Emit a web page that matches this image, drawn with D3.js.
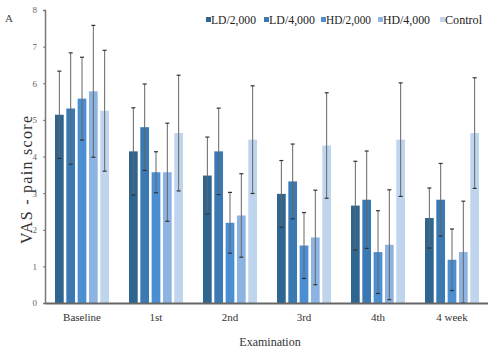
<!DOCTYPE html>
<html>
<head>
<meta charset="utf-8">
<script src="https://cdn.jsdelivr.net/npm/d3@7"></script>
<style>
  body { margin: 0; background: #fff; }
  svg text { font-family: "Liberation Serif", "Times New Roman", serif; }
</style>
</head>
<body>
<div id="chart"></div>
<script>
// Data
const exams = ["Baseline", "1st", "2nd", "3rd", "4th", "4 week"];
const groups = ["LD/2,000", "LD/4,000", "HD/2,000", "HD/4,000", "Control"];
const colors = ["#2e6690", "#3b79b3", "#4b8fd2", "#8db3e2", "#bfd5ee"];
const yTicks = [0, 1, 2, 3, 4, 5, 6, 7, 8];

// mean values, one array per group, in exam order
const ld2000 = [5.14, 4.14, 3.48, 2.98, 2.66, 2.32];
const ld4000 = [5.31, 4.80, 4.14, 3.32, 2.82, 2.82];
const hd2000 = [5.58, 3.57, 2.19, 1.57, 1.39, 1.18];
const hd4000 = [5.78, 3.57, 2.39, 1.79, 1.59, 1.39];
const control = [5.25, 4.64, 4.46, 4.30, 4.46, 4.64];

// standard deviations (error bars)
const ld2000Sd = [1.19, 1.19, 1.05, 0.91, 1.21, 0.82];
const ld4000Sd = [1.52, 1.18, 1.18, 1.02, 1.33, 0.99];
const hd2000Sd = [1.13, 0.56, 0.83, 0.90, 1.13, 0.84];
const hd4000Sd = [1.80, 1.34, 1.14, 1.29, 1.50, 1.39];
const controlSd = [1.65, 1.58, 1.47, 1.44, 1.55, 1.51];

const means = [ld2000, ld4000, hd2000, hd4000, control];
const sds = [ld2000Sd, ld4000Sd, hd2000Sd, hd4000Sd, controlSd];

const data = [];
exams.forEach((e, i) => {
    groups.forEach((g, j) => {
        data.push({ exam: e, group: g, mean: means[j][i], sd: sds[j][i], color: colors[j] });
    });
});

const W = 488, H = 352;
const margin = { top: 10, right: 0, bottom: 49, left: 45 };
const width = W - margin.left - margin.right,
    height = H - margin.top - margin.bottom;

const svg = d3.select("#chart").append("svg")
    .attr("width", W)
    .attr("height", H);

const g = svg.append("g")
    .attr("transform", `translate(${margin.left},${margin.top})`);

const x0 = d3.scaleBand().domain(exams).range([0, 444]).paddingInner(0.27).paddingOuter(0.135);
const x1 = d3.scaleBand().domain(groups).range([0, x0.bandwidth()]).paddingInner(0.23);
const y = d3.scaleLinear().domain([0, 8]).range([height, 0]);

// Bars
g.append("g")
    .selectAll("rect")
    .data(data)
    .join("rect")
    .attr("x", d => x0(d.exam) + x1(d.group))
    .attr("y", d => y(d.mean))
    .attr("width", x1.bandwidth())
    .attr("height", d => y(0) - y(d.mean))
    .attr("fill", d => d.color);

// Error bars
const eb = g.append("g").selectAll("g")
    .data(data)
    .join("g")
    .attr("transform", d => `translate(${x0(d.exam) + x1(d.group) + x1.bandwidth() / 2},0)`);

eb.append("line")
    .attr("y1", d => y(d.mean + d.sd))
    .attr("y2", d => y(Math.max(0, d.mean - d.sd)))
    .attr("stroke", "#666")
    .attr("stroke-width", 1);

eb.append("line")
    .attr("x1", -2).attr("x2", 2)
    .attr("y1", d => y(d.mean + d.sd))
    .attr("y2", d => y(d.mean + d.sd))
    .attr("stroke", "#333")
    .attr("stroke-width", 1.2);

eb.append("line")
    .attr("x1", -2).attr("x2", 2)
    .attr("y1", d => y(Math.max(0, d.mean - d.sd)))
    .attr("y2", d => y(Math.max(0, d.mean - d.sd)))
    .attr("stroke", "#333")
    .attr("stroke-width", 1.2);

// Y axis
const yAxis = g.append("g")
    .call(d3.axisLeft(y).tickValues(yTicks).tickSize(2).tickPadding(6));
yAxis.select(".domain").attr("stroke", "#777").attr("stroke-width", 1.5);
yAxis.selectAll(".tick line").attr("stroke", "#777");
yAxis.selectAll(".tick text")
    .attr("fill", "#666")
    .style("font-size", "9px");

// X axis
const xAxis = g.append("g")
    .attr("transform", `translate(0,${height})`)
    .call(d3.axisBottom(x0).tickSize(0).tickPadding(10));
xAxis.select(".domain").attr("stroke", "#666").attr("stroke-width", 2);
xAxis.selectAll(".tick text")
    .attr("fill", "#333")
    .style("font-size", "11px");

// Axis titles
svg.append("text")
    .attr("x", 270)
    .attr("y", 346)
    .attr("text-anchor", "middle")
    .attr("fill", "#333")
    .style("font-size", "12px")
    .text("Examination");

svg.append("text")
    .attr("transform", "translate(32,180) rotate(-90)")
    .attr("text-anchor", "middle")
    .attr("fill", "#333")
    .style("font-size", "16px")
    .attr("textLength", 128)
    .text("VAS - pain score");

svg.append("text")
    .attr("x", 5)
    .attr("y", 22)
    .attr("fill", "#444")
    .style("font-size", "11px")
    .text("A");

// Legend
const legendX = [206, 264, 321, 378, 440];
const legendLen = [45, 46, 45, 47, 37];
const legend = svg.append("g")
    .selectAll("g")
    .data(groups)
    .join("g")
    .attr("transform", (d, i) => `translate(${legendX[i]},20)`);

legend.append("rect")
    .attr("x", 0).attr("y", -3)
    .attr("width", 5).attr("height", 5)
    .attr("fill", (d, i) => colors[i]);

legend.append("text")
    .attr("x", 5)
    .attr("y", 4)
    .attr("fill", "#222")
    .style("font-size", "12px")
    .attr("textLength", (d, i) => legendLen[i])
    .attr("lengthAdjust", "spacingAndGlyphs")
    .text(d => d);
</script>
</body>
</html>
